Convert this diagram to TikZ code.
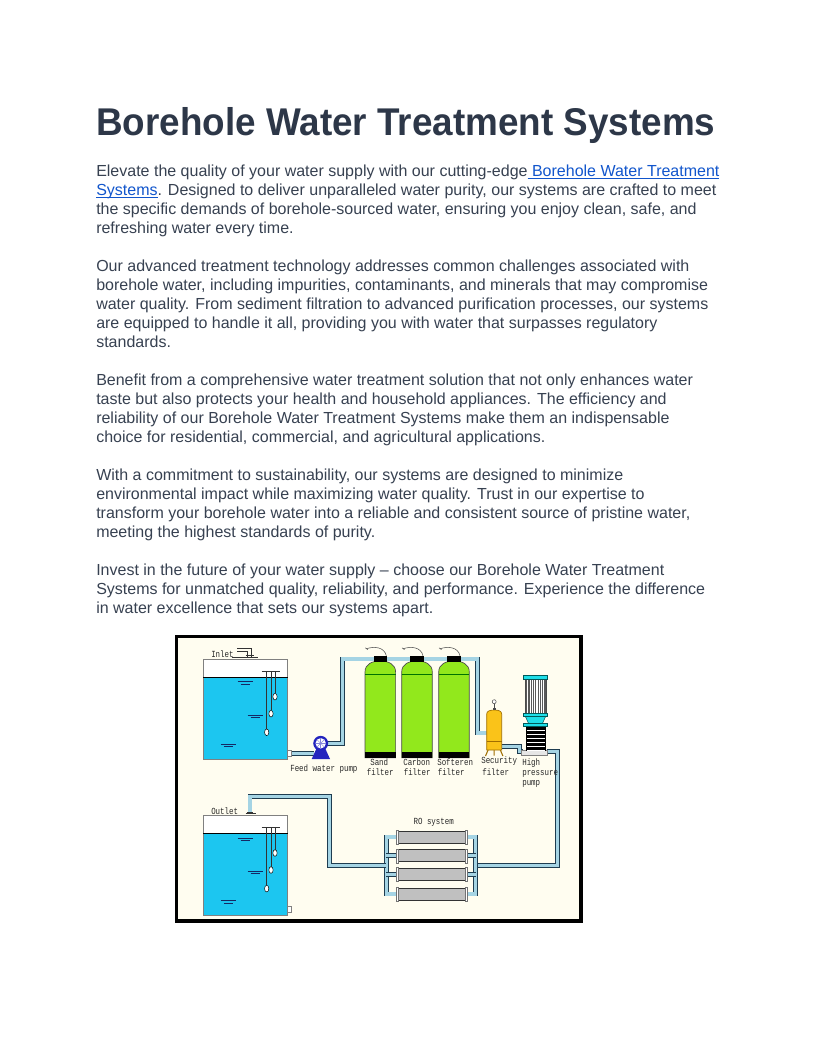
\documentclass[tikz,border=0pt]{standalone}
\usepackage{fontspec}
\setmainfont{Liberation Sans}
\newfontfamily\bodyfont{Liberation Sans}
\newfontfamily\titlefont{Liberation Sans}[FakeStretch=0.953]
\newfontfamily\diagfont{Liberation Mono}[FakeStretch=0.8]
\definecolor{titlec}{RGB}{45,55,72}
\definecolor{bodyc}{RGB}{55,65,81}
\definecolor{linkc}{RGB}{17,85,204}
\definecolor{diagbg}{RGB}{255,253,240}
\definecolor{water}{RGB}{28,198,240}
\definecolor{pipefill}{RGB}{165,212,228}
\definecolor{pipedark}{RGB}{30,60,80}
\definecolor{filtergreen}{RGB}{146,232,28}
\definecolor{secyellow}{RGB}{250,195,25}
\definecolor{yellowdark}{RGB}{160,110,0}
\definecolor{motorcyan}{RGB}{30,222,232}
\definecolor{pumpblue}{RGB}{36,36,190}
\definecolor{memgray}{RGB}{192,192,192}
\definecolor{labelc}{RGB}{40,40,40}
\definecolor{levelc}{RGB}{20,40,100}
\newcommand\ulink[1]{\textcolor{linkc}{\setbox0\hbox{#1}\rlap{\rule[-1.8pt]{\wd0}{0.65pt}}\box0}}
\newcommand\drawtankbody{%
  \fill[white] (203.3,659) rectangle (287.7,677);
  \fill[water] (203.3,677) rectangle (287.7,759);
  \draw[gray, line width=0.6pt] (203.3,659) rectangle (287.7,759);
  \draw[black, line width=0.6pt] (203.3,677) -- (287.7,677);
  \foreach \lx/\ly in {245/681.7, 255/715, 228.3/744.3}{%
    \draw[levelc, line width=0.5pt] (\lx-7.5,\ly) -- (\lx+7.5,\ly) (\lx-4.5,\ly+2.3) -- (\lx+4.5,\ly+2.3);}
  \draw[black!80, line width=0.5pt] (261.7,671) -- (280,671);
  \draw[black!80, line width=0.35pt] (266.7,671) -- (266.7,729) (271,671) -- (271,710.3) (275,671) -- (275,693.3);
  \draw[black, fill=white, line width=0.35pt] (266.7,732.3) ellipse [x radius=1.6pt, y radius=2.5pt];
  \draw[black, fill=white, line width=0.35pt] (271,713.7) ellipse [x radius=1.6pt, y radius=2.5pt];
  \draw[black, fill=white, line width=0.35pt] (275,696.7) ellipse [x radius=1.6pt, y radius=2.5pt];
  \draw[gray, fill=white, line width=0.5pt] (287.7,750) rectangle (291,756.3);
}
\tikzset{
  titlestyle/.style={anchor=base west, inner sep=0pt, text=titlec, font=\titlefont\bfseries\fontsize{29}{34}\selectfont},
  bodyline/.style={anchor=base west, inner sep=0pt, text=bodyc, font=\bodyfont\fontsize{12}{14}\selectfont},
  pipe/.style={draw=pipefill, line width=2.5pt, line join=miter, preaction={draw=pipedark, line width=3.7pt, line join=miter}},
  lbl/.style={anchor=west, inner sep=0pt, text=labelc, font=\diagfont\fontsize{7}{8}\selectfont},
}
\begin{document}
\begin{tikzpicture}[x=0.75pt, y=-0.75pt]
\fill[white] (0,0) rectangle (816,1056);
\useasboundingbox (0,0) rectangle (816,1056);

% ---------- text ----------
\node[titlestyle] (title) at (96,135) {Borehole Water Treatment Systems};

\node[bodyline] (l0) at (96,176.3) {Elevate the quality of your water supply with our cutting-edge\ulink{ Borehole Water Treatment}};
\node[bodyline] (l1) at (96,195.3) {\ulink{Systems}. Designed to deliver unparalleled water purity, our systems are crafted to meet};
\node[bodyline] (l2) at (96,214.3) {the specific demands of borehole-sourced water, ensuring you enjoy clean, safe, and};
\node[bodyline] (l3) at (96,233.3) {refreshing water every time.};

\node[bodyline] (l5) at (96,271.3) {Our advanced treatment technology addresses common challenges associated with};
\node[bodyline] (l6) at (96,290.3) {borehole water, including impurities, contaminants, and minerals that may compromise};
\node[bodyline] (l7) at (96,309.3) {water quality. From sediment filtration to advanced purification processes, our systems};
\node[bodyline] (l8) at (96,328.3) {are equipped to handle it all, providing you with water that surpasses regulatory};
\node[bodyline] (l9) at (96,347.3) {standards.};

\node[bodyline] (l11) at (96,385.3) {Benefit from a comprehensive water treatment solution that not only enhances water};
\node[bodyline] (l12) at (96,404.3) {taste but also protects your health and household appliances. The efficiency and};
\node[bodyline] (l13) at (96,423.3) {reliability of our Borehole Water Treatment Systems make them an indispensable};
\node[bodyline] (l14) at (96,442.3) {choice for residential, commercial, and agricultural applications.};

\node[bodyline] (l16) at (96,480.3) {With a commitment to sustainability, our systems are designed to minimize};
\node[bodyline] (l17) at (96,499.3) {environmental impact while maximizing water quality. Trust in our expertise to};
\node[bodyline] (l18) at (96,518.3) {transform your borehole water into a reliable and consistent source of pristine water,};
\node[bodyline] (l19) at (96,537.3) {meeting the highest standards of purity.};

\node[bodyline] (l21) at (96,575.3) {Invest in the future of your water supply – choose our Borehole Water Treatment};
\node[bodyline] (l22) at (96,594.3) {Systems for unmatched quality, reliability, and performance. Experience the difference};
\node[bodyline] (l23) at (96,613.3) {in water excellence that sets our systems apart.};

% ---------- diagram frame ----------
\draw[black, line width=2.3pt, fill=diagbg] (176.5,636.5) rectangle (581,921);

% ---------- pipes ----------
\draw[pipe] (291,753.3) -- (313.5,753.3);
\draw[pipe] (327,743.3) -- (342.8,743.3) -- (342.8,659) -- (477.7,659) -- (477.7,733) -- (487,733);
\draw[pipe] (501.5,746.5) -- (519.5,746.5) -- (519.5,751.8) -- (522.5,751.8);
\draw[pipe] (547,751.8) -- (557.3,751.8) -- (557.3,865.3) -- (475.8,865.3);
\draw[pipe] (466,837) -- (475.8,837) -- (475.8,894) -- (466,894);
\draw[pipe] (466,855.7) -- (475.8,855.7);
\draw[pipe] (466,874.3) -- (475.8,874.3);
\draw[pipe] (397.3,837) -- (386.2,837) -- (386.2,894) -- (397.3,894);
\draw[pipe] (397.3,855.7) -- (386.2,855.7);
\draw[pipe] (397.3,874.3) -- (386.2,874.3);
\draw[pipe] (386.2,865.3) -- (329.7,865.3) -- (329.7,796.7) -- (250,796.7) -- (250,813);

% ---------- tanks ----------
\drawtankbody
\begin{scope}[shift={(0,156.3)}]
\drawtankbody
\end{scope}
% inlet fitting
\draw[black!80, line width=0.5pt] (232.3,657.7) -- (257.7,657.7);
\draw[black!80, line width=0.45pt] (237,648.3) -- (251.7,648.3) -- (251.7,657.7) (237,651.7) -- (247.7,651.7) -- (247.7,657.7) (245.5,655.2) -- (254,655.2);
% outlet fitting
\draw[black!80, line width=0.5pt] (245.5,813.8) -- (255.5,813.8);
\draw[black!80, line width=0.45pt] (247,812) -- (253,812);

% ---------- feed pump ----------
\fill[pumpblue] (311.7,759) -- (330,759) -- (325,748) -- (316.7,748) -- cycle;
\fill[pumpblue] (320.7,743.3) circle [radius=5.6pt];
\fill[white] (320.7,743.3) circle [radius=3.9pt];
\foreach \a in {0,45,...,315}{\draw[pumpblue!55, line width=0.35pt] (320.7,743.3) -- ++(\a:3.9pt);}

% ---------- filters ----------
\foreach \xc in {380.3,417,454}{%
  \filldraw[fill=filtergreen, draw=black!70, line width=0.5pt] (\xc-15.3,757.7) -- (\xc-15.3,672) .. controls (\xc-15.3,664) and (\xc-8,661) .. (\xc,661) .. controls (\xc+8,661) and (\xc+15.3,664) .. (\xc+15.3,672) -- (\xc+15.3,757.7) -- cycle;
  \draw[green!45!black, line width=0.35pt] (\xc-15.3,674.3) -- (\xc+15.3,674.3);
  \fill[black] (\xc-15.3,752.3) rectangle (\xc+15.3,757.7);
  \fill[black] (\xc-6.7,655.7) rectangle (\xc+6.7,661.7);
  \draw[black!70, line width=0.4pt] (\xc-14,648.8) .. controls (\xc-6,646) and (\xc+4,647) .. (\xc+6,655.7);
  \draw[black!70, line width=0.4pt] (\xc-15,647.8) -- (\xc-12.5,649.6);
}

% ---------- security filter ----------
\draw[yellowdark, line width=0.8pt] (488.5,749) -- (485.5,756) (499.9,749) -- (502.9,756) (494.2,749) -- (494.2,755.5);
\filldraw[fill=secyellow, draw=yellowdark, line width=0.5pt] (486.7,750) -- (486.7,714) .. controls (486.7,711) and (490,710) .. (494.2,710) .. controls (498.4,710) and (501.7,711) .. (501.7,714) -- (501.7,750) -- cycle;
\draw[yellowdark, line width=0.4pt] (486.7,741.7) -- (501.7,741.7);
\fill[black!70] (492.7,708.4) rectangle (495.7,710.4);
\draw[black!70, line width=0.4pt] (494.2,703.7) -- (494.2,708.4);
\draw[black!70, fill=white, line width=0.4pt] (494.2,701.7) circle [radius=1.5pt];

% ---------- high pressure pump ----------
\filldraw[fill=memgray!40, draw=gray, line width=0.5pt] (521.7,750.7) rectangle (547.3,755);
\fill[white] (526,726.7) rectangle (545,750.7);
\foreach \i in {0,...,5}{\fill[black] (526,727.4+\i*4) rectangle (545,729.9+\i*4);}
\draw[black, line width=0.4pt] (526,726.7) -- (526,750.7) (545,726.7) -- (545,750.7);
\fill[white] (525,679.3) rectangle (546,713.3);
\foreach \i in {0,...,8}{\fill[black!65] (526+\i*2.3,679.3) rectangle (527.2+\i*2.3,713.3);}
\draw[black!70, line width=0.4pt] (525,679.3) rectangle (546,713.3);
\filldraw[fill=motorcyan, draw=teal!70!black, line width=0.4pt] (523.3,675) rectangle (547.3,679.3);
\filldraw[fill=motorcyan, draw=teal!70!black, line width=0.4pt] (525.5,716.7) -- (545.5,716.7) -- (542.5,723.3) -- (528.5,723.3) -- cycle;
\filldraw[fill=motorcyan, draw=teal!70!black, line width=0.4pt] (523.3,713.3) rectangle (547.3,716.7);
\filldraw[fill=motorcyan, draw=teal!70!black, line width=0.4pt] (523.3,723.3) rectangle (547.3,726.7);

% ---------- RO membranes ----------
\foreach \my in {837,855.7,874.3,894}{%
  \filldraw[fill=memgray, draw=black!80, line width=0.5pt] (397.3,\my-6) rectangle (466,\my+6);
  \filldraw[fill=white, draw=black!55, line width=0.3pt] (396.5,\my-7) rectangle (398.3,\my+7);
  \filldraw[fill=white, draw=black!55, line width=0.3pt] (465,\my-7) rectangle (466.8,\my+7);
}

% ---------- labels ----------
\node[lbl] (tin) at (211,654) {Inlet};
\node[lbl] (tout) at (211,811) {Outlet};
\node[lbl] (tfeed) at (290,769.3) {Feed water pump};
\node[lbl] (ts1) at (370,762.3) {Sand};
\node[lbl] (ts2) at (366.5,772.5) {filter};
\node[lbl] (tc1) at (403,762.3) {Carbon};
\node[lbl] (tc2) at (403.5,772.5) {filter};
\node[lbl] (tf1) at (437,762.3) {Softeren};
\node[lbl] (tf2) at (437.5,772.5) {filter};
\node[lbl] (tsec1) at (481,761.3) {Security};
\node[lbl] (tsec2) at (482,771.7) {filter};
\node[lbl] (thp1) at (522,763.3) {High};
\node[lbl] (thp2) at (522,773.7) {pressure};
\node[lbl] (thp3) at (522,784) {pump};
\node[lbl] (tro) at (413.3,822.3) {RO system};
\end{tikzpicture}
\end{document}
